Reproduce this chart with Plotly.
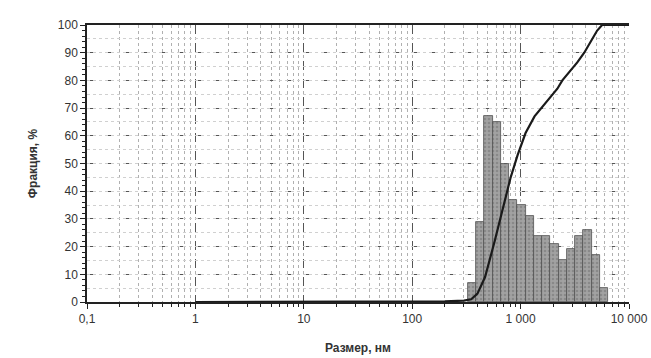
import numpy as np
import plotly.graph_objects as go

# ---- data ----
bin_edges_nm = [326, 389, 463, 552, 658, 784, 934, 1113, 1326, 1580,
                1883, 2244, 2674, 3186, 3797, 4524, 5391, 6424]
fraction_pct = [7, 29, 67, 65, 50, 37, 35, 31, 24, 24, 21, 15, 19, 24, 26, 17, 5]

cum_size_nm = [1, 100, 200, 300, 350, 400, 470, 577, 683, 810, 938, 1111,
               1344, 1592, 2183, 2427, 3333, 3864, 5086, 5650, 10000]
cum_pct = [0, 0, 0.2, 0.5, 1, 3, 9, 22, 33, 45, 53, 61,
           67, 70.5, 77, 80, 86.5, 90, 98, 100, 100]

x_tickvals = [0.1, 1, 10, 100, 1000, 10000]
x_ticktext = ["0,1", "1", "10", "100", "1 000", "10 000"]
y_tickvals = [0, 10, 20, 30, 40, 50, 60, 70, 80, 90, 100]

# ---- derived geometry in log space (drawn on overlaid linear axis x2) ----
le = np.log10(np.array(bin_edges_nm, dtype=float))
bar_centers = (le[:-1] + le[1:]) / 2
bar_widths = le[1:] - le[:-1]
cum_log_x = np.log10(np.array(cum_size_nm, dtype=float))

font = "Liberation Sans, Arial, sans-serif"
fig = go.Figure()

# invisible helper traces so the log axis and the faint 5-step grid axis render
fig.add_trace(go.Scatter(x=[1], y=[0], xaxis="x", yaxis="y", mode="markers",
                         marker=dict(opacity=0), showlegend=False, hoverinfo="skip"))
fig.add_trace(go.Scatter(x=[1], y=[0], xaxis="x", yaxis="y2", mode="markers",
                         marker=dict(opacity=0), showlegend=False, hoverinfo="skip"))

fig.add_trace(go.Bar(
    x=bar_centers, y=fraction_pct, width=bar_widths,
    xaxis="x2", yaxis="y",
    marker=dict(color="#9c9c9c",
                line=dict(color="#505050", width=0.8),
                pattern=dict(shape=".", fgcolor="#707070", bgcolor="#a2a2a2",
                             size=4, solidity=0.35)),
    showlegend=False, hoverinfo="skip"))

fig.add_trace(go.Scatter(
    x=cum_log_x, y=cum_pct, mode="lines", xaxis="x2", yaxis="y",
    line=dict(color="#1a1a1a", width=2.2),
    showlegend=False, hoverinfo="skip"))

fig.update_layout(
    width=651, height=358,
    margin=dict(l=87, r=22, t=25, b=56),
    paper_bgcolor="white", plot_bgcolor="white",
    font=dict(family=font, size=12, color="#333333"),
    bargap=0,
    xaxis=dict(
        type="log", range=[-1, 4], automargin=False,
        tickvals=x_tickvals, ticktext=x_ticktext,
        ticks="outside", ticklen=5, tickcolor="#222", tickwidth=1,
        showline=True, linecolor="#222", linewidth=1.5, mirror=True,
        showgrid=True, gridcolor="#555555", griddash="dash", gridwidth=1,
        zeroline=False,
        minor=dict(dtick="D1", ticks="outside", ticklen=3, tickcolor="#222",
                   showgrid=True, gridcolor="#b0b0b0", griddash="dot", gridwidth=1),
        tickfont=dict(size=12, color="#333"),
        title=dict(text="<b>Размер, нм</b>", font=dict(size=12, color="#333"), standoff=18),
    ),
    xaxis2=dict(overlaying="x", range=[-1, 4], visible=False, showgrid=False),
    yaxis=dict(
        range=[0, 100], tickvals=y_tickvals, automargin=False,
        ticks="outside", ticklen=5, tickcolor="#222",
        showline=True, linecolor="#222", linewidth=1.5,
        showgrid=True, gridcolor="#555555", griddash="dash", gridwidth=1,
        zeroline=False,
        minor=dict(dtick=2, ticks="outside", ticklen=3, tickcolor="#222", showgrid=False),
        tickfont=dict(size=12, color="#333"),
        title=dict(text="<b>Фракция, %</b>", font=dict(size=12, color="#333"), standoff=18),
    ),
    yaxis2=dict(overlaying="y", range=[0, 100], dtick=5, showticklabels=False,
                showgrid=True, gridcolor="#d0d0d0", griddash="dot", gridwidth=1,
                zeroline=False, showline=False, ticks="", layer="below traces"),
)

fig.write_html("out.html")
